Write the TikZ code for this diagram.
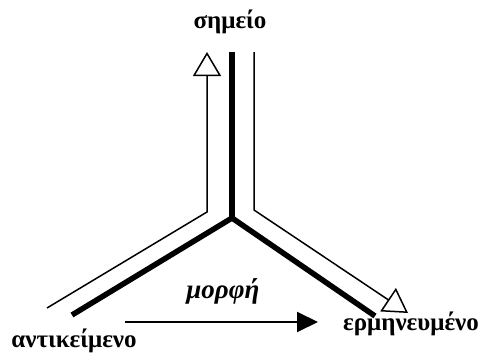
\documentclass[tikz,border=0pt]{standalone}
\usepackage{fontspec}
\setmainfont{Liberation Serif}
\usetikzlibrary{arrows.meta}

\begin{document}
\begin{tikzpicture}[x=1pt,y=-1pt]

\tikzset{thick line/.style = {line width=5.5pt}}
\tikzset{thin line/.style = {line width=1.5pt, -{Triangle[open,length=24pt,width=28pt,fill=white]}}}
\tikzset{label/.style = {font=\fontsize{25}{30}\selectfont\bfseries, anchor=base}}
\useasboundingbox (0,0) rectangle (483,356);
% points
\coordinate (c) at (232,218);
\coordinate (top) at (232,52);
\coordinate (left) at (72,315);
\coordinate (right) at (375,316);
\coordinate (l0) at (47,308);
\coordinate (l1) at (207,212);
\coordinate (l2) at (207,52);
\coordinate (r0) at (254,52);
\coordinate (r1) at (254,210);
\coordinate (r2) at (408,313);
\coordinate (m0) at (125,322);
\coordinate (m1) at (318,322);
% labels
\node[label] (sign) at (230,28) {σημείο};
\node[label] (obj) at (74,347) {αντικείμενο};
\node[label] (interp) at (411,330) {ερμηνευμένο};
\node[label, font=\fontsize{27}{30}\selectfont\bfseries\itshape] (form) at (223,298) {μορφή};
% lines
\draw[thick line] (left) -- (c) -- (right);
\draw[thick line] (c) -- (top);
\draw[thin line] (l0) -- (l1) -- (l2);
\draw[thin line] (r0) -- (r1) -- (r2);
\draw[line width=2pt, -{Triangle[length=21pt,width=20pt]}] (m0) -- (m1);
\end{tikzpicture}
\end{document}
